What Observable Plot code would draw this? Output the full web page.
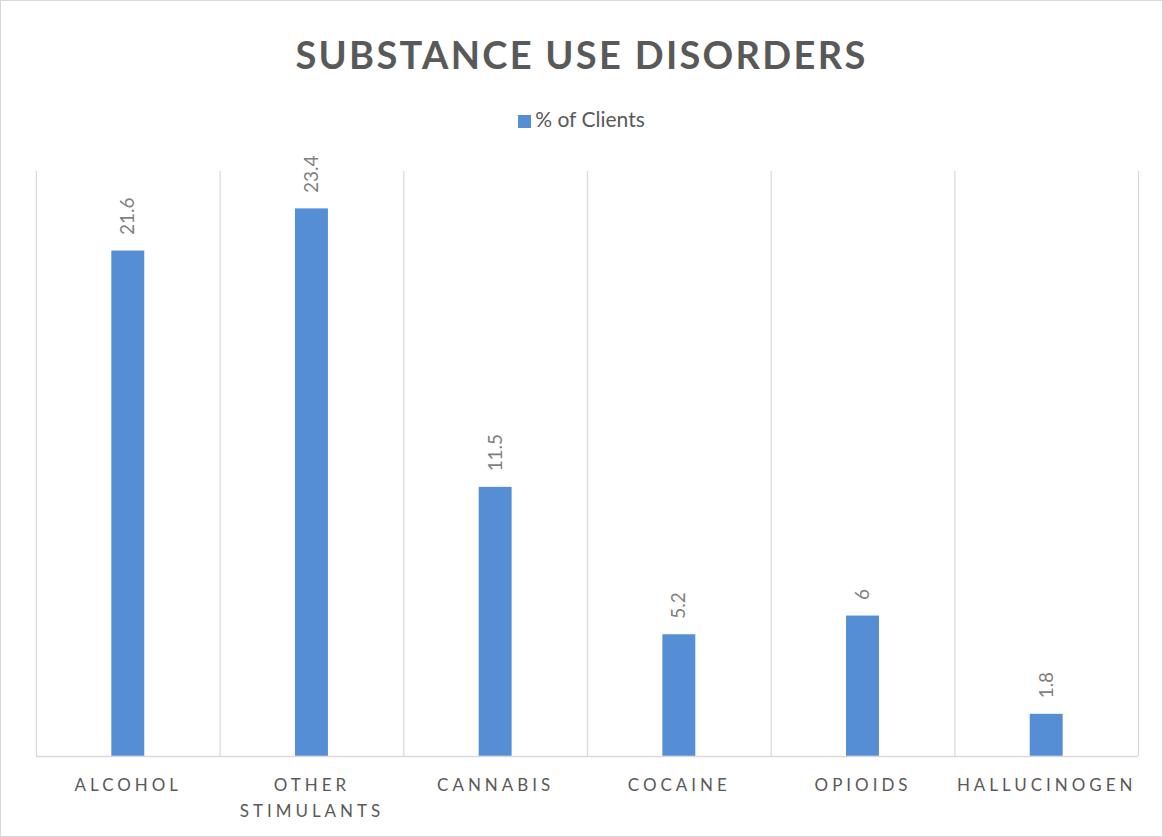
<!DOCTYPE html>
<html>
<head>
<meta charset="utf-8">
<script src="https://cdn.jsdelivr.net/npm/d3@7"></script>
<script src="https://cdn.jsdelivr.net/npm/@observablehq/plot@0.6"></script>
<style>
  html, body { margin: 0; padding: 0; background: #fff; }
  #frame { position: relative; width: 1163px; height: 837px; box-sizing: border-box; border: 1px solid #d9d9d9; background: #fff; overflow: hidden; font-family: Lato, "Open Sans", sans-serif; }
  #title { position: absolute; left: 0; right: 0; top: 25px; text-align: center; font-weight: 700; font-size: 38px; letter-spacing: 2.3px; color: #595959; line-height: 56px; }
  #legend { position: absolute; left: 0; right: 0; top: 104px; text-align: center; font-size: 21px; color: #595959; line-height: 28px; }
  #legend .sw { display: inline-block; width: 13px; height: 13px; background: #558ED5; margin-right: 4px; vertical-align: -1px; }
  #chart { position: absolute; left: 0; top: 140px; }
  #chart svg [aria-label="x-axis tick label"] text { letter-spacing: 4px; }
</style>
</head>
<body>
<div id="frame">
  <div id="title">SUBSTANCE USE DISORDERS</div>
  <div id="legend"><span class="sw"></span>% of Clients</div>
  <div id="chart"></div>
</div>
<script>
const categories = ["ALCOHOL", "OTHER\nSTIMULANTS", "CANNABIS", "COCAINE", "OPIOIDS", "HALLUCINOGEN"];
const values = [21.6, 23.4, 11.5, 5.2, 6, 1.8];
const yMax = 25;

const data = categories.map((c, i) => ({category: c, value: values[i]}));

const W = 1163, H = 697, mL = 35, mR = 24, mT = 30, mB = 81;
const half = (W - mL - mR) / categories.length / 2;

const chart = Plot.plot({
  width: W,
  height: H,
  marginLeft: mL,
  marginRight: mR,
  marginTop: mT,
  marginBottom: mB,
  style: {fontFamily: "Lato, 'Open Sans', sans-serif", background: "transparent"},
  x: {domain: categories, padding: 0},
  y: {domain: [0, yMax], axis: null},
  marks: [
    Plot.ruleX(categories, {x: d => d, dx: -half, y1: 0, y2: yMax, stroke: "#d9d9d9", strokeWidth: 1.2}),
    Plot.ruleX([categories[categories.length - 1]], {x: d => d, dx: half, y1: 0, y2: yMax, stroke: "#d9d9d9", strokeWidth: 1.2}),
    Plot.barY(data, {x: "category", y: "value", fill: "#558ED5", insetLeft: 75.5, insetRight: 75.5}),
    Plot.ruleY([0], {stroke: "#d9d9d9", strokeWidth: 1.5}),
    Plot.text(data, {x: "category", y: "value", text: d => String(d.value), rotate: -90, textAnchor: "start", dy: -16, fontSize: 19, fill: "#7f7f7f"}),
    Plot.axisX({tickSize: 0, tickPadding: 17, fontSize: 17, lineHeight: 1.5, fill: "#595959", label: null})
  ]
});
document.getElementById("chart").appendChild(chart);
</script>
</body>
</html>
